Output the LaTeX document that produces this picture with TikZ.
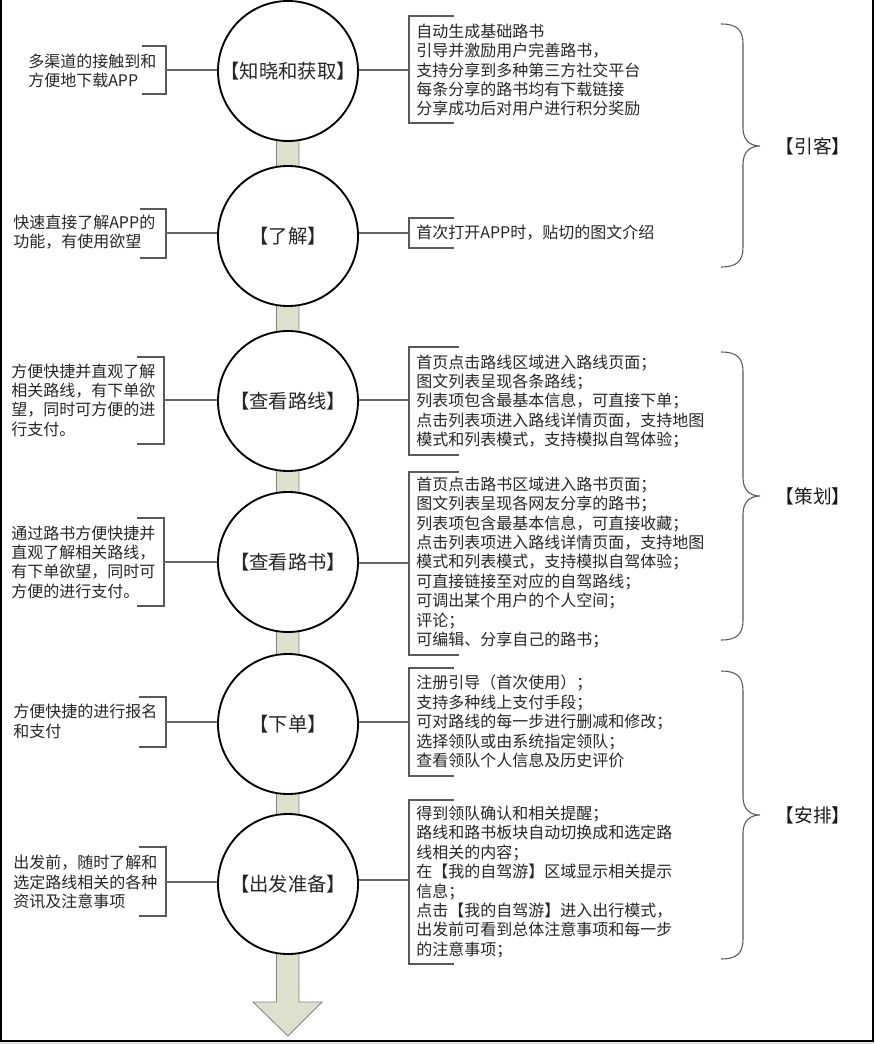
\documentclass[tikz,border=0pt]{standalone}
\usepackage{fontspec}
\setmainfont{Noto Sans CJK SC}
\begin{document}
\begin{tikzpicture}[x=0.75pt,y=-0.75pt,
  txt/.style={font=\fontsize{12}{14.55}\selectfont, align=left, inner sep=0pt, anchor=west, text=black!85},
  stage/.style={circle, draw=black, line width=1.4pt, fill=white, minimum size=105pt, inner sep=0pt, text=black!85, font=\fontsize{14.5}{16}\selectfont},
  brk/.style={draw=black!65, line width=0.8pt},
  conn/.style={draw=black!60, line width=0.8pt},
  brc/.style={draw=black!65, line width=0.8pt},
  phase/.style={font=\fontsize{14}{15}\selectfont, inner sep=0pt, text=black!90}
]
\useasboundingbox (0,0) rectangle (874,1044);
\fill[black!12] (0,1041) rectangle (874,1044);
% frame
\draw[line width=1.5pt] (1,0) -- (1,1040.5) -- (873,1040.5) -- (873,0);

% shaft and arrow
\filldraw[fill={rgb,255:red,220;green,224;blue,204}, draw=black!50, line width=0.6pt]
  (276.5,130) -- (276.5,1002) -- (253,1002) -- (288,1036) -- (322,1002) -- (299,1002) -- (299,130) -- cycle;

% circles
\node[stage] (c1) at (288,71)  {【知晓和获取】};
\node[stage] (c2) at (288,236) {【了解】};
\node[stage] (c3) at (288,401) {【查看路线】};
\node[stage] (c4) at (288,562) {【查看路书】};
\node[stage] (c5) at (288,724) {【下单】};
\node[stage] (c6) at (288,884) {【出发准备】};

% left texts
\node[txt] (l1) at (28,71)  {多渠道的接触到和\\方便地下载APP};
\node[txt] (l2) at (13,232) {快速直接了解APP的\\功能，有使用欲望};
\node[txt] (l3) at (11,400) {方便快捷并直观了解\\相关路线，有下单欲\\望，同时可方便的进\\行支付。};
\node[txt] (l4) at (11,562) {通过路书方便快捷并\\直观了解相关路线，\\有下单欲望，同时可\\方便的进行支付。};
\node[txt] (l5) at (13,721.5) {方便快捷的进行报名\\和支付};
\node[txt] (l6) at (13,882) {出发前，随时了解和\\选定路线相关的各种\\资讯及注意事项};

% left brackets
\draw[brk] (142,46) -- (166,46) -- (166,94) -- (142,94);
\draw[brk] (140,209) -- (166,209) -- (166,258) -- (140,258);
\draw[brk] (137,357) -- (164,357) -- (164,444) -- (137,444);
\draw[brk] (137,518) -- (164,518) -- (164,606) -- (137,606);
\draw[brk] (139,697) -- (166,697) -- (166,747) -- (139,747);
\draw[brk] (139,847) -- (166,847) -- (166,916) -- (139,916);
\coordinate (la1) at (166,70);
\coordinate (la2) at (166,233);
\coordinate (la3) at (164,400);
\coordinate (la4) at (164,562);
\coordinate (la5) at (166,722);
\coordinate (la6) at (166,882);

% right texts
\node[txt] (r1) at (416,70) {自动生成基础路书\\引导并激励用户完善路书，\\支持分享到多种第三方社交平台\\每条分享的路书均有下载链接\\分享成功后对用户进行积分奖励};
\node[txt] (r2) at (416,233) {首次打开APP时，贴切的图文介绍};
\node[txt] (r3) at (416,401.5) {首页点击路线区域进入路线页面；\\图文列表呈现各条路线；\\列表项包含最基本信息，可直接下单；\\点击列表项进入路线详情页面，支持地图\\模式和列表模式，支持模拟自驾体验；};
\node[txt] (r4) at (416,562.5) {首页点击路书区域进入路书页面；\\图文列表呈现各网友分享的路书；\\列表项包含最基本信息，可直接收藏；\\点击列表项进入路线详情页面，支持地图\\模式和列表模式，支持模拟自驾体验；\\可直接链接至对应的自驾路线；\\可调出某个用户的个人空间；\\评论；\\可编辑、分享自己的路书；};
\node[txt] (r5) at (416,721.5) {注册引导（首次使用）；\\支持多种线上支付手段；\\可对路线的每一步进行删减和修改；\\选择领队或由系统指定领队；\\查看领队个人信息及历史评价};
\node[txt] (r6) at (416,882) {得到领队确认和相关提醒；\\路线和路书板块自动切换成和选定路\\线相关的内容；\\在【我的自驾游】区域显示相关提示\\信息；\\点击【我的自驾游】进入出行模式，\\出发前可看到总体注意事项和每一步\\的注意事项；};

% right brackets
\draw[brk] (454,16) -- (409,16) -- (409,123) -- (454,123);
\draw[brk] (454,218) -- (409,218) -- (409,248) -- (454,248);
\draw[brk] (459,347) -- (409,347) -- (409,455) -- (459,455);
\draw[brk] (459,472) -- (409,472) -- (409,655) -- (459,655);
\draw[brk] (454,668) -- (409,668) -- (409,776) -- (454,776);
\draw[brk] (454,800) -- (409,800) -- (409,964) -- (454,964);
\coordinate (ra1) at (409,70);
\coordinate (ra2) at (409,233);
\coordinate (ra3) at (409,400);
\coordinate (ra4) at (409,563);
\coordinate (ra5) at (409,722);
\coordinate (ra6) at (409,880);

% connectors
\foreach \i in {1,...,6}{
  \draw[conn] (la\i) -- (c\i.west |- la\i);
  \draw[conn] (c\i.east |- ra\i) -- (ra\i);
}

% braces
\newcommand{\curlybrace}[3]{%
  \draw[brc] (721,#1) .. controls (737,#1) and (743,{#1+6}) .. (743,{#1+20})
    -- (743,{#2-18}) .. controls (743,{#2-6}) and (750,#2) .. (760,#2)
    .. controls (750,#2) and (743,{#2+6}) .. (743,{#2+18})
    -- (743,{#3-20}) .. controls (743,{#3-6}) and (737,#3) .. (721,#3);}
\curlybrace{24}{146}{267}
\curlybrace{352}{496}{640}
\curlybrace{671}{815}{959}

\node[phase] (p1) at (813,146) {【引客】};
\node[phase] (p2) at (813,496) {【策划】};
\node[phase] (p3) at (813,815) {【安排】};
\end{tikzpicture}
\end{document}
